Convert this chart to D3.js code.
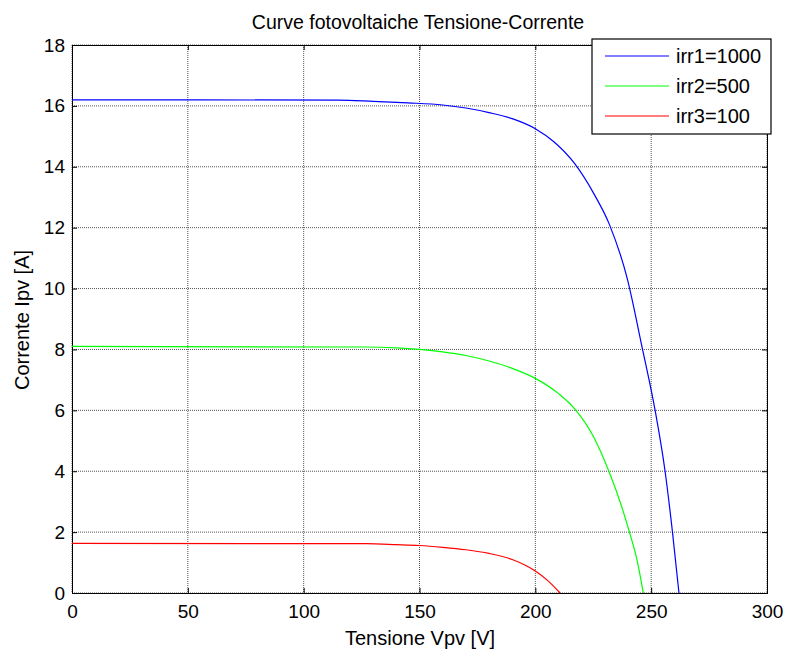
<!DOCTYPE html>
<html>
<head>
<meta charset="utf-8">
<script src="https://cdn.jsdelivr.net/npm/d3@7"></script>
<style>
  body { margin: 0; background: #fff; }
  text { font-family: "Liberation Sans", Arial, sans-serif; fill: #000; }
</style>
</head>
<body>
<svg width="788" height="653"></svg>
<script>
// curve data (V in volts, I in amps)
var irr1V = [0, 115, 130, 145, 160, 170, 180, 190, 200, 208, 217, 225, 232, 239.6, 246, 251.7, 256, 259.2, 262];
var irr1I = [16.2, 16.19, 16.15, 16.1, 16.03, 15.93, 15.78, 15.58, 15.25, 14.82, 14.1, 13.15, 12.1, 10.35, 8.1, 6.0, 4.0, 2.0, 0];

var irr2V = [0, 127, 140, 150, 160, 170, 180, 190, 200, 210, 217, 225, 232, 237, 241, 244, 246.6];
var irr2I = [8.1, 8.08, 8.05, 8.0, 7.92, 7.8, 7.62, 7.38, 7.05, 6.55, 6.05, 5.15, 3.95, 2.9, 1.9, 1.05, 0];

var irr3V = [0, 127, 140, 150, 160, 170, 180, 190, 200, 205, 210.7];
var irr3I = [1.63, 1.62, 1.59, 1.56, 1.5, 1.42, 1.3, 1.1, 0.72, 0.43, 0];

var seriesNames = ["irr1=1000", "irr2=500", "irr3=100"];
var seriesColors = ["#0000ff", "#00ff00", "#ff0000"];

var xTicks = [0, 50, 100, 150, 200, 250, 300];
var yTicks = [0, 2, 4, 6, 8, 10, 12, 14, 16, 18];

var plotLeft = 72, plotRight = 767, plotTop = 45, plotBottom = 593;

var svg = d3.select("svg");

var x = d3.scaleLinear().domain([0, 300]).range([plotLeft, plotRight]);
var y = d3.scaleLinear().domain([0, 18]).range([plotBottom, plotTop]);

// dotted grid
svg.append("g").selectAll("line")
    .data(xTicks)
    .enter()
    .append("line")
    .attr("x1", function(d) { return x(d); })
    .attr("x2", function(d) { return x(d); })
    .attr("y1", plotTop)
    .attr("y2", plotBottom)
    .attr("stroke", "#555")
    .attr("stroke-dasharray", "1,1");

svg.append("g").selectAll("line")
    .data(yTicks)
    .enter()
    .append("line")
    .attr("y1", function(d) { return y(d); })
    .attr("y2", function(d) { return y(d); })
    .attr("x1", plotLeft)
    .attr("x2", plotRight)
    .attr("stroke", "#555")
    .attr("stroke-dasharray", "1,1");

// axes, ticks inward on all four sides
var xAxis = d3.axisBottom(x).tickValues(xTicks).tickSize(-5).tickPadding(12);
var yAxis = d3.axisLeft(y).tickValues(yTicks).tickSize(-5).tickPadding(7);

svg.append("g").attr("transform", "translate(0," + plotBottom + ")").call(xAxis);
svg.append("g").attr("transform", "translate(" + plotLeft + ",0)").call(yAxis);
svg.append("g").attr("transform", "translate(0," + plotTop + ")")
    .call(d3.axisTop(x).tickValues(xTicks).tickSize(-5).tickFormat(""));
svg.append("g").attr("transform", "translate(" + plotRight + ",0)")
    .call(d3.axisRight(y).tickValues(yTicks).tickSize(-5).tickFormat(""));

svg.selectAll(".domain").attr("stroke", "#000");
svg.selectAll(".tick line").attr("stroke", "#000");
svg.selectAll(".tick text").style("font-size", "19px");

// curves
var allSeries = [
    { v: irr1V, i: irr1I },
    { v: irr2V, i: irr2I },
    { v: irr3V, i: irr3I }
];

var line = d3.line()
    .x(function(d) { return x(d[0]); })
    .y(function(d) { return y(d[1]); })
    .curve(d3.curveMonotoneX);

svg.append("g").selectAll("path")
    .data(allSeries)
    .enter()
    .append("path")
    .attr("d", function(s) {
        return line(s.v.map(function(v, k) { return [v, s.i[k]]; }));
    })
    .attr("fill", "none")
    .attr("stroke", function(d, k) { return seriesColors[k]; })
    .attr("stroke-width", 1.2);

// title and axis labels
svg.append("text")
    .attr("x", 418).attr("y", 29)
    .attr("text-anchor", "middle")
    .style("font-size", "19.5px")
    .text("Curve fotovoltaiche Tensione-Corrente");

svg.append("text")
    .attr("x", 420).attr("y", 645)
    .attr("text-anchor", "middle")
    .style("font-size", "20px")
    .text("Tensione Vpv [V]");

svg.append("text")
    .attr("transform", "translate(29,320) rotate(-90)")
    .attr("text-anchor", "middle")
    .style("font-size", "20px")
    .text("Corrente Ipv [A]");

// legend
var legend = svg.append("g");
legend.append("rect")
    .attr("x", 592).attr("y", 39)
    .attr("width", 179).attr("height", 95)
    .attr("fill", "#fff")
    .attr("stroke", "#000")
    .attr("stroke-width", 1.2);

var rows = legend.selectAll("g.row")
    .data(seriesNames)
    .enter()
    .append("g")
    .attr("class", "row")
    .attr("transform", function(d, k) { return "translate(0," + (56 + k * 30) + ")"; });

rows.append("line")
    .attr("x1", 605).attr("x2", 669)
    .attr("stroke", function(d, k) { return seriesColors[k]; })
    .attr("stroke-width", 1.2);

rows.append("text")
    .attr("x", 676).attr("y", 7)
    .style("font-size", "20px")
    .text(function(d) { return d; });
</script>
</body>
</html>
